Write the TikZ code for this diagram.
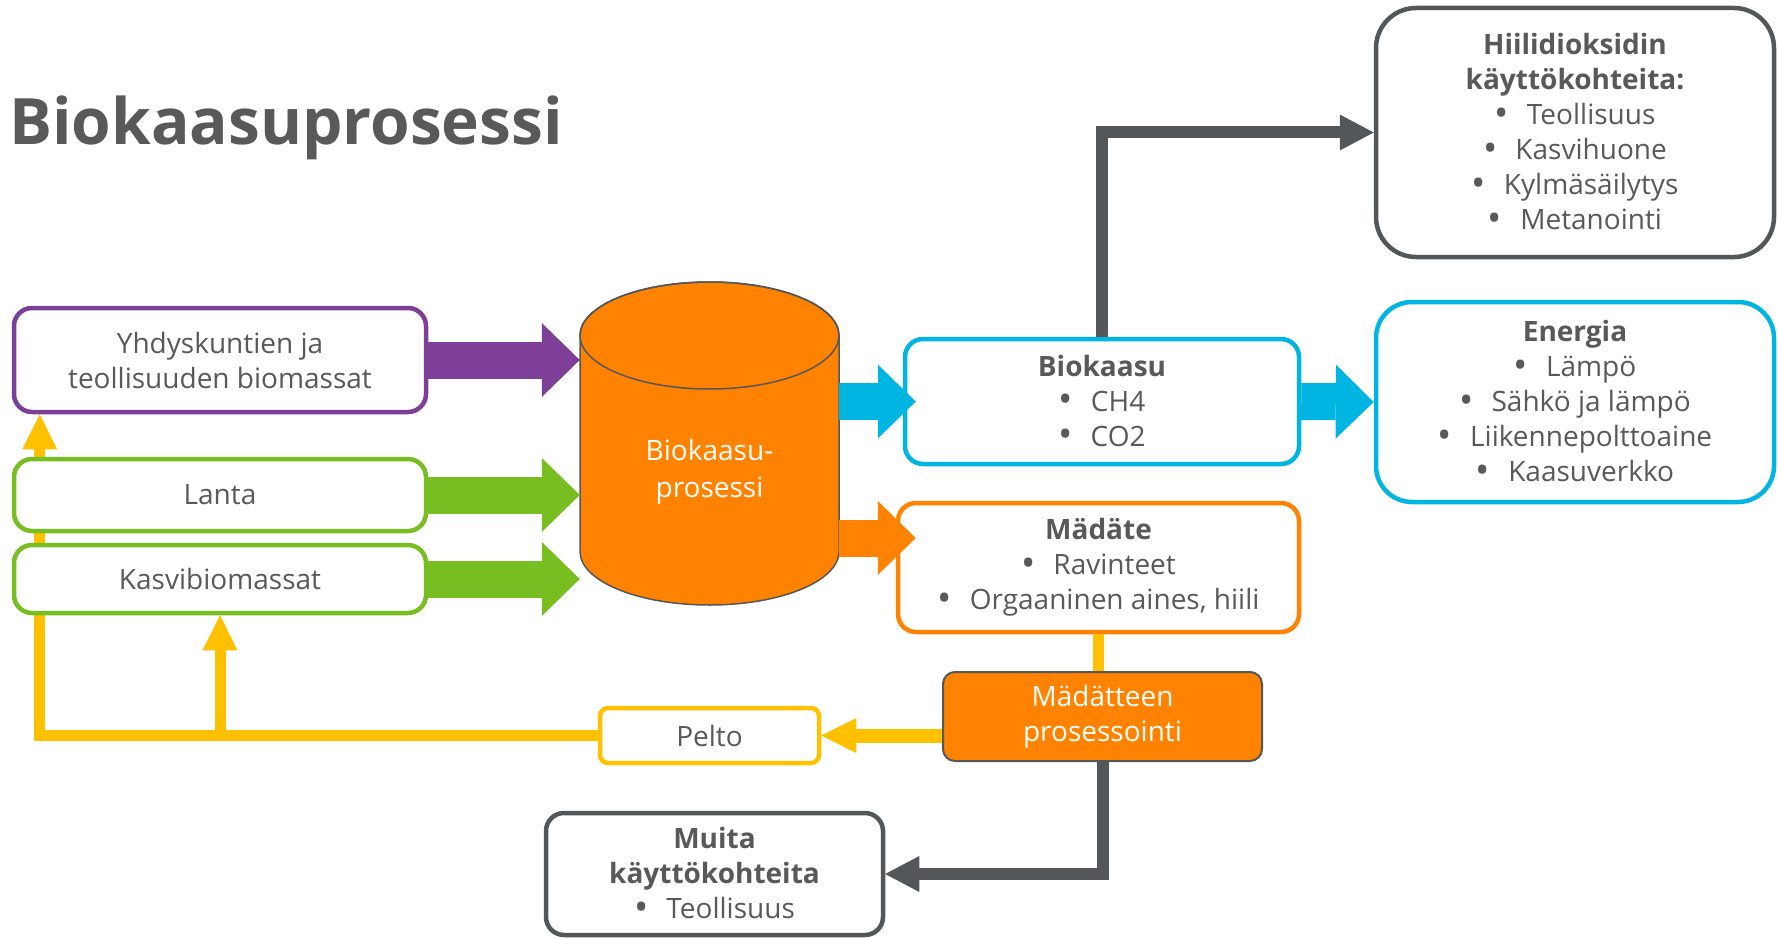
\documentclass[tikz,border=0pt]{standalone}
\usepackage{fontspec}
\setmainfont{Open Sans}
\usetikzlibrary{arrows.meta, positioning, backgrounds}
\definecolor{txtgray}{HTML}{595959}
\definecolor{linegray}{HTML}{53575A}
\definecolor{bpurple}{HTML}{7E3F98}
\definecolor{bgreen}{HTML}{78BE20}
\definecolor{borange}{HTML}{FF8200}
\definecolor{bblue}{HTML}{00B5E2}
\definecolor{byellow}{HTML}{FFC000}
\tikzstyle{every node}=[font=\fontsize{28}{35}\selectfont, text=txtgray, align=center]
\tikzstyle{box}=[draw, fill=white, rectangle, rounded corners=18pt, line width=4.5pt, inner sep=0pt]
\tikzstyle{fat}=[line width=37pt, -{Triangle[length=38pt, width=74pt, line width=0pt]}]
\tikzstyle{pipe}=[line width=12pt, linegray, -{Triangle[length=34pt, width=36pt, line width=0pt]}]
\tikzstyle{feed}=[line width=11pt, byellow, -{Triangle[length=35pt, width=35pt, line width=0pt]}]
\newcommand{\bul}{\raisebox{-1.5pt}{\fontsize{38}{35}\selectfont•}\hspace{18pt}}

\begin{document}
\begin{tikzpicture}[x=1pt, y=-1pt]
  \useasboundingbox (0,0) rectangle (1778,939);
  \node[anchor=base west, inner sep=0pt, font=\fontsize{64}{70}\selectfont\bfseries] (title) at (9,145) {Biokaasuprosessi};

  \node[box, draw=bpurple, minimum width=412pt, minimum height=104pt] (yht) at (220,360) {Yhdyskuntien ja\\teollisuuden biomassat};
  \node[box, draw=bgreen, minimum width=412pt, minimum height=72pt] (lanta) at (220,495) {Lanta};
  \node[box, draw=bgreen, minimum width=412pt, minimum height=68pt] (kasvi) at (220,579) {Kasvibiomassat};

  % reaktori
  \filldraw[fill=borange, draw=linegray, line width=1.5pt] (580,335.5) -- (580,551.5)
    arc[start angle=180, end angle=0, x radius=129.5, y radius=53.5] -- (839,335.5)
    arc[start angle=0, end angle=-180, x radius=129.5, y radius=53.5] -- cycle;
  \draw[linegray, line width=1.5pt] (709.5,335.5) ellipse[x radius=129.5, y radius=53.5];
  \node[text=white, minimum width=259pt, inner sep=0pt, font=\fontsize{28}{37}\selectfont] (cyl) at (709.5,472) {Biokaasu-\\prosessi};

  \draw[fat, bpurple] (yht.east) -- (cyl.west |- yht.east);
  \draw[fat, bgreen] (lanta.east) -- (cyl.west |- lanta.east);
  \draw[fat, bgreen] (kasvi.east) -- (cyl.west |- kasvi.east);

  \node[box, draw=bblue, minimum width=394pt, minimum height=125pt] (bio) at (1102,401.5) {\textbf{Biokaasu}\\\bul CH4\\\bul CO2};
  \node[box, draw=borange, minimum width=401pt, minimum height=129pt] (mad) at (1098.5,567.5) {\textbf{Mädäte}\\\bul Ravinteet\\\bul Orgaaninen aines, hiili};
  \coordinate (bioin) at ([xshift=13pt]bio.west);
  \coordinate (madin) at ([xshift=20pt, yshift=29.5pt]mad.west);
  \draw[fat, bblue] (cyl.east |- bioin) -- (bioin);
  \draw[fat, borange] (cyl.east |- madin) -- (madin);

  \node[box, draw=linegray, rounded corners=40pt, minimum width=398pt, minimum height=249pt] (hii) at (1575,132.5) {\textbf{Hiilidioksidin}\\\textbf{käyttökohteita:}\\\bul Teollisuus\\\bul Kasvihuone\\\bul Kylmäsäilytys\\\bul Metanointi};
  \node[box, draw=bblue, rounded corners=36pt, minimum width=398pt, minimum height=200pt] (ene) at (1575,402) {\textbf{Energia}\\\bul Lämpö\\\bul Sähkö ja lämpö\\\bul Liikennepolttoaine\\\bul Kaasuverkko};
  \draw[fat, bblue] (bio.east) -- (ene.west);
  \draw[pipe] (bio.north) |- (hii.west);

  \node[box, draw=linegray, fill=borange, text=white, line width=2pt, rounded corners=12pt, minimum width=319pt, minimum height=89pt] (pros) at (1102.5,716.5) {Mädätteen\\prosessointi};
  \node[box, draw=byellow, rounded corners=8pt, minimum width=219pt, minimum height=55pt] (pelto) at (709.5,735.5) {Pelto};
  \node[box, draw=linegray, minimum width=337pt, minimum height=122pt] (muita) at (714.5,874) {\textbf{Muita}\\\textbf{käyttökohteita}\\\bul Teollisuus};

  \draw[line width=11pt, byellow] (mad.south) -- (mad.south |- pros.north);
  \draw[feed, line width=14pt] (pros.west |- pelto.east) -- (pelto.east);
  \draw[pipe] (pros.south) |- (muita.east);
  \begin{pgfonlayer}{background}
    \draw[feed] (pelto.west) -| ([xshift=28pt]yht.south west);
    \draw[feed] (kasvi.south |- pelto.west) -- (kasvi.south);
  \end{pgfonlayer}
\end{tikzpicture}
\end{document}
